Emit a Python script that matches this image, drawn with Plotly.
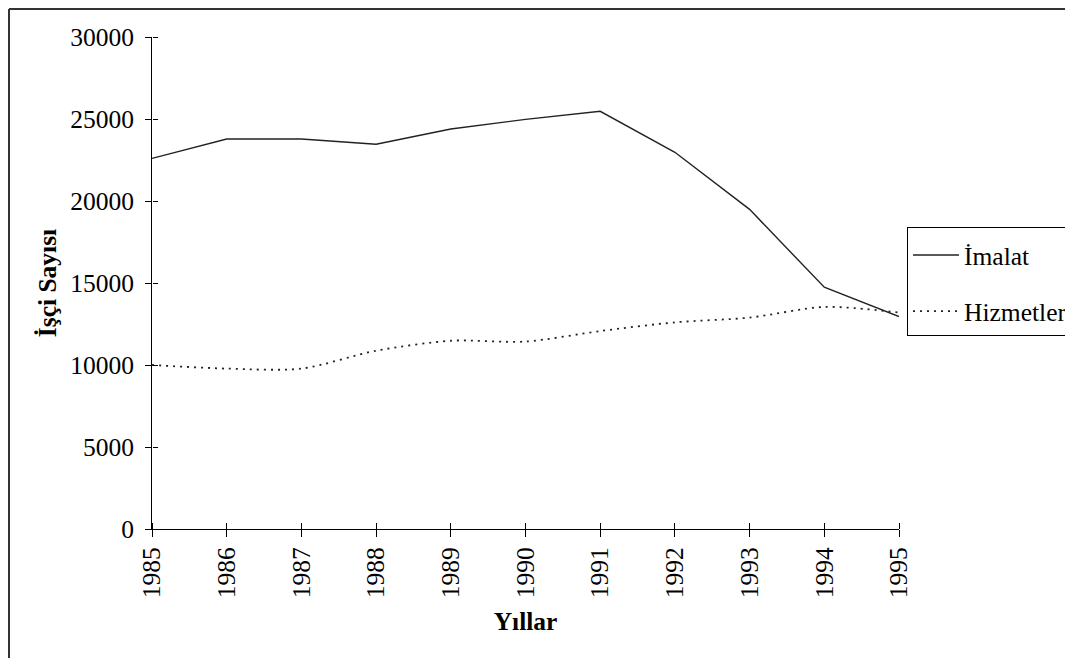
import plotly.graph_objects as go

years = [1985, 1986, 1987, 1988, 1989, 1990, 1991, 1992, 1993, 1994, 1995]
imalat = [22600, 23780, 23780, 23460, 24390, 24980, 25470, 22970, 19490, 14740, 12950]
hizmetler = [10000, 9780, 9780, 10870, 11480, 11430, 12070, 12600, 12890, 13540, 13200]
y_ticks = [0, 5000, 10000, 15000, 20000, 25000, 30000]

FONT = "Liberation Serif, Times New Roman, serif"
FS = 25.5
OFF = 8  # page body margin
W, H = 1073, 658
PW, PH = 747, 492
ML, MT = 152 - OFF, 37 - OFF
MR, MB = W - ML - PW, H - MT - PH

def px_x(p):
    return (p - OFF - ML) / PW

def px_y(p):
    return (MT + PH - (p - OFF)) / PH

fig = go.Figure()
fig.add_trace(go.Scatter(x=years, y=imalat, name="İmalat", mode="lines",
                         line=dict(color="#222222", width=1.4), legendgroup="a"))
fig.add_trace(go.Scatter(x=years, y=hizmetler, name="Hizmetler", mode="lines",
                         line=dict(color="#222222", width=1.8, dash="2px,5px",
                                   shape="spline", smoothing=0.8), legendgroup="b"))
# invisible trace so the crossing-tick helper axes are drawn
fig.add_trace(go.Scatter(x=years, y=imalat, xaxis="x2", yaxis="y2", showlegend=False,
                         mode="lines", opacity=0, hoverinfo="skip"))

tick_font = dict(family=FONT, size=FS, color="black")
fig.update_layout(
    width=W, height=H,
    margin=dict(l=ML, r=MR, t=MT, b=MB, autoexpand=False),
    paper_bgcolor="white", plot_bgcolor="white",
    font=dict(family=FONT, size=FS, color="black"),
    xaxis=dict(range=[1985, 1995], tickvals=years, ticktext=[str(y) for y in years],
               tickangle=-90, ticks="outside", ticklen=7, tickwidth=1, tickcolor="black",
               showline=True, linecolor="black", linewidth=1, showgrid=False, zeroline=False,
               tickfont=tick_font, ticklabelstandoff=0,
               title=dict(text="<b>Yıllar</b>", font=dict(family=FONT, size=FS), standoff=14)),
    yaxis=dict(range=[0, 30000], tickvals=y_ticks, ticktext=[str(v) for v in y_ticks],
               ticks="outside", ticklen=6, tickwidth=1, tickcolor="black",
               showline=True, linecolor="black", linewidth=1, showgrid=False, zeroline=False,
               tickfont=tick_font, ticklabelstandoff=6,
               title=dict(text="<b>İşçi Sayısı</b>", font=dict(family=FONT, size=FS), standoff=6)),
    xaxis2=dict(overlaying="x", side="top", anchor="free", position=0,
                range=[1985, 1995], tickvals=years,
                ticks="outside", ticklen=6, tickwidth=1, tickcolor="black",
                showticklabels=False, showline=False, showgrid=False, zeroline=False),
    yaxis2=dict(overlaying="y", side="right", anchor="free", position=0,
                range=[0, 30000], tickvals=y_ticks,
                ticks="outside", ticklen=5, tickwidth=1, tickcolor="black",
                showticklabels=False, showline=False, showgrid=False, zeroline=False),
    legend=dict(x=px_x(907), y=px_y(227), xanchor="left", yanchor="top",
                bordercolor="black", borderwidth=1, bgcolor="white",
                font=dict(family=FONT, size=FS, color="black"),
                title=dict(text=" ", font=dict(size=3)),
                tracegroupgap=20, itemwidth=46, entrywidth=200),
    shapes=[dict(type="line", xref="paper", yref="paper",
                 x0=px_x(9), x1=px_x(1100), y0=px_y(9), y1=px_y(9),
                 line=dict(color="#333333", width=2)),
            dict(type="line", xref="paper", yref="paper",
                 x0=px_x(9), x1=px_x(9), y0=px_y(9), y1=px_y(700),
                 line=dict(color="#333333", width=2))],
    showlegend=True,
)

fig.write_html("out.html")
